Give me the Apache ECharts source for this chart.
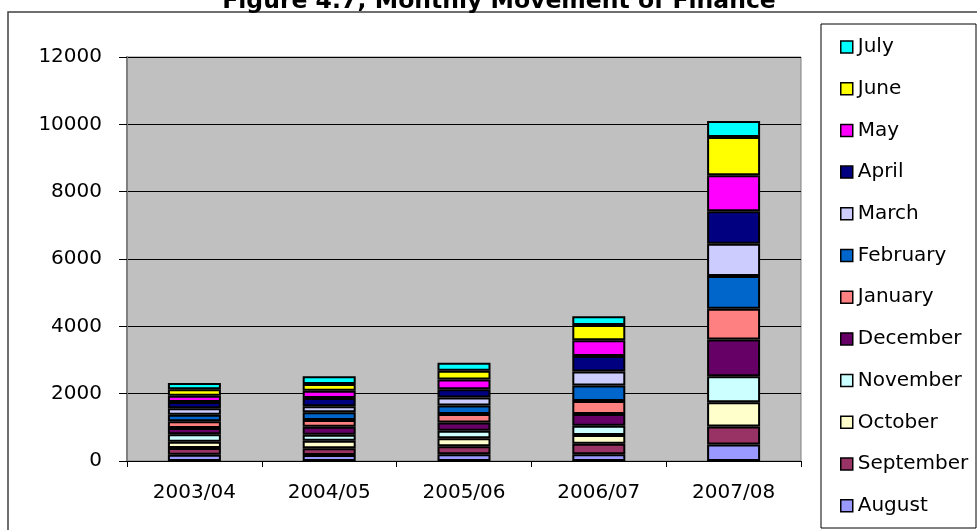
<!DOCTYPE html>
<html>
<head>
<meta charset="utf-8">
<title>Monthly Movement of Finance</title>
<script src="https://cdn.jsdelivr.net/npm/echarts@6/dist/echarts.min.js"></script>
<style>
    html, body { margin: 0; padding: 0; background: #fff; }
    #chart { width: 977px; height: 530px; }
</style>
</head>
<body>
<div id="chart"></div>
<script>
var years = ['2003/04', '2004/05', '2005/06', '2006/07', '2007/08'];

// values per month, one entry per year (stacked bottom-up from August)
var august    = [188, 178, 198, 198, 490];
var september = [198, 198, 238, 317, 535];
var october   = [188, 228, 238, 258, 723];
var november  = [218, 178, 228, 277, 772];
var december  = [188, 238, 238, 347, 1091];
var january   = [198, 198, 258, 386, 912];
var february  = [198, 228, 248, 456, 969];
var march     = [188, 178, 238, 416, 963];
var april     = [188, 248, 248, 466, 960];
var may       = [188, 218, 287, 466, 1070];
var june      = [188, 198, 258, 456, 1138];
var july      = [188, 228, 238, 258, 476];

var months = ['August', 'September', 'October', 'November', 'December', 'January',
    'February', 'March', 'April', 'May', 'June', 'July'];
var monthData = [august, september, october, november, december, january,
    february, march, april, may, june, july];
var colorList = ['#9999FF', '#993366', '#FFFFCC', '#CCFFFF', '#660066', '#FF8080',
    '#0066CC', '#CCCCFF', '#000080', '#FF00FF', '#FFFF00', '#00FFFF'];

var font = 'DejaVu Sans';

var series = [];
for (var i = 0; i < months.length; i++) {
    series.push({
        name: months[i],
        type: 'bar',
        stack: 'total',
        barWidth: 53,
        itemStyle: {
            color: colorList[i],
            borderColor: '#000',
            borderWidth: 2
        },
        data: monthData[i]
    });
}

var myChart = echarts.init(document.getElementById('chart'));
var option = {
    backgroundColor: '#FFFFFF',
    animation: false,
    title: {
        text: 'Figure 4.7; Monthly Movement of Finance',
        left: 494,
        textAlign: 'center',
        top: -15,
        textStyle: {
            fontFamily: font,
            fontWeight: 'bold',
            fontSize: 23.5,
            color: '#000'
        }
    },
    graphic: [
        {
            type: 'rect',
            shape: { x: 8, y: 12, width: 1000, height: 600 },
            style: { fill: 'none', stroke: '#404040', lineWidth: 1.5 },
            z: -1
        },
        {
            type: 'rect',
            shape: { x: 821, y: 24, width: 155, height: 504 },
            style: { fill: '#fff', stroke: '#000', lineWidth: 1 },
            z: 0
        }
    ],
    legend: {
        orient: 'vertical',
        left: 840,
        top: 37,
        padding: 0,
        itemGap: 21.7,
        itemWidth: 12,
        itemHeight: 12,
        icon: 'rect',
        itemStyle: { borderColor: '#000', borderWidth: 1.5 },
        textStyle: { fontFamily: font, fontSize: 20, lineHeight: 20, color: '#000' },
        data: months.slice().reverse()
    },
    grid: {
        left: 127,
        right: 176,
        top: 57,
        bottom: 69,
        show: true,
        backgroundColor: '#C0C0C0',
        borderColor: '#808080',
        borderWidth: 1
    },
    xAxis: {
        type: 'category',
        data: years,
        axisLine: { lineStyle: { color: '#000', width: 1 } },
        axisTick: { show: true, length: 6, lineStyle: { color: '#000' } },
        axisLabel: { fontFamily: font, fontSize: 20, color: '#000', margin: 22 }
    },
    yAxis: {
        type: 'value',
        min: 0,
        max: 12000,
        interval: 2000,
        axisLine: { show: true, lineStyle: { color: '#808080', width: 2 } },
        axisTick: { show: true, length: 8, lineStyle: { color: '#000' } },
        axisLabel: {
            fontFamily: font,
            fontSize: 20,
            color: '#000',
            margin: 25,
            formatter: function (v) { return String(v); }
        },
        splitLine: { lineStyle: { color: '#000', width: 1 } }
    },
    series: series
};
myChart.setOption(option);
</script>
</body>
</html>
